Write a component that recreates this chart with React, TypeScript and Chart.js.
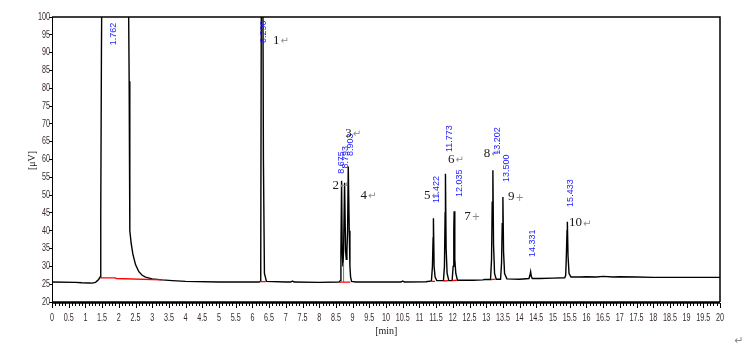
import React, { useEffect, useRef } from "react";
import { Chart, registerables } from "chart.js";

Chart.register(...registerables);

// ---- data ----
const traceTime = [
  0, 0.7, 0.9, 1.1, 1.2, 1.3, 1.36, 1.4, 1.44, 1.46, 1.48, 1.5,
  2.28, 2.3, 2.31, 2.33, 2.37, 2.42, 2.5, 2.6, 2.7, 2.8, 3.0, 3.3, 3.6, 4.0, 5.0, 6.2,
  6.23, 6.25, 6.27, 6.31, 6.33, 6.36, 6.42, 7.0, 7.15, 7.2, 7.25, 8.0, 8.6,
  8.63, 8.65, 8.67, 8.69, 8.71, 8.73, 8.76, 8.79, 8.81, 8.83, 8.85, 8.87, 8.90, 8.92, 8.94, 8.97, 9.1,
  10.0, 10.45, 10.5, 10.55, 11.2, 11.36, 11.39, 11.41, 11.42, 11.44, 11.47, 11.52,
  11.72, 11.75, 11.77, 11.78, 11.80, 11.83, 11.88,
  11.98, 12.01, 12.03, 12.04, 12.06, 12.09, 12.14, 12.6, 12.9, 12.95,
  13.13, 13.16, 13.18, 13.20, 13.22, 13.25, 13.3,
  13.43, 13.46, 13.48, 13.50, 13.52, 13.55, 13.62, 14.0,
  14.28, 14.31, 14.33, 14.35, 14.38, 14.6, 15.0, 15.35,
  15.38, 15.40, 15.42, 15.43, 15.45, 15.48, 15.54, 15.8, 16.0, 16.3, 16.5, 16.8, 17.0, 17.5, 18.0, 19.0, 20.0,
];
const traceValue = [
  25.6, 25.5, 25.4, 25.35, 25.3, 25.5, 26.0, 26.4, 27.0, 45, 90, 120,
  120, 120, 82, 40, 36.5, 33.5, 30.5, 28.5, 27.5, 27.0, 26.5, 26.2, 26.0, 25.8, 25.6, 25.6,
  25.8, 30, 120, 120, 60, 28, 25.8, 25.6, 25.6, 25.9, 25.6, 25.5, 25.6,
  26, 34, 54, 34, 30, 34.5, 53.5, 34.5, 32, 34.5, 40, 58, 40, 30, 27, 25.8, 25.6,
  25.6, 25.6, 25.9, 25.6, 25.7, 25.9, 30, 38, 43.5, 30, 27, 26,
  26, 30, 45, 56, 35, 28, 26,
  26, 30, 40, 45.5, 32, 28, 26.1, 26.1, 26.2, 26.3,
  26.3, 32, 48, 57, 36, 28, 26.4,
  26.4, 31, 42, 49.5, 34, 28, 26.5, 26.4,
  26.6, 27.5, 28.5, 27.2, 26.6, 26.6, 26.7, 26.8,
  27.5, 33, 40, 42.5, 33, 28, 27, 27.0, 27.1, 27.0, 27.2, 27.0, 27.1, 27.0, 26.9, 26.9, 26.9,
];

// integration baselines (red) and drop lines (green)
const redTime = [1.45, 1.9, 1.92, 3.3, null, 6.22, 6.40, null, 8.62, 8.93, null, 11.37, 11.47, null, 11.73, 11.86, null, 11.98, 12.12, null, 13.14, 13.28, null, 13.44, 13.58, null, 14.26, 14.40, null, 15.37, 15.50];
const redValue = [26.8, 26.8, 26.6, 26.2, null, 25.7, 25.7, null, 25.6, 25.6, null, 25.8, 25.8, null, 25.9, 26.0, null, 26.0, 26.1, null, 26.3, 26.4, null, 26.4, 26.5, null, 26.6, 26.6, null, 26.8, 26.9];
const greenTime = [8.73, 8.73, null, 8.85, 8.85];
const greenValue = [25.6, 31, null, 25.6, 33];

// annotations
const peakNames = ["1", "2", "3", "4", "5", "6", "7", "8", "9", "10"];
const peakNameTime = [6.62, 8.40, 8.78, 9.24, 11.14, 11.86, 12.34, 12.93, 13.65, 15.48];
const peakNameValue = [93.5, 52.8, 67.4, 49.8, 49.8, 60.1, 43.9, 61.8, 49.5, 42.2];
const peakMarks = ["↵", "↵", "↵", "↵", "↵", "↵", "+", "↵", "+", "↵"];

const rtLabels = ["1.762", "6.290", "8.675", "8.793", "8.903", "11.422", "11.773", "12.035", "13.202", "13.500", "14.331", "15.433"];
const rtTime = [1.83, 6.33, 8.67, 8.79, 8.93, 11.50, 11.89, 12.19, 13.35, 13.61, 14.40, 15.51];
const rtValue = [92.1, 92.7, 56.0, 57.5, 61.0, 47.8, 62.1, 49.5, 61.3, 53.7, 32.6, 46.7];

const xMin = 0, xMax = 20, xStep = 0.5, xMinor = 0.1;
const yMin = 20, yMax = 100, yStep = 5;

const toXY = (ts: (number | null)[], vs: (number | null)[]) =>
  ts.map((t, i) => (t === null ? { x: NaN, y: NaN } : { x: t as number, y: vs[i] as number }));

const narrow = (ctx: CanvasRenderingContext2D, s: string, x: number, y: number, align: "center" | "right", sx: number) => {
  ctx.save();
  ctx.translate(x, y);
  ctx.scale(sx, 1);
  ctx.textAlign = align;
  ctx.textBaseline = "middle";
  ctx.fillText(s, 0, 0);
  ctx.restore();
};

const overlay = {
  id: "overlay",
  afterDatasetsDraw(chart: any) {
    const { ctx, chartArea: a, scales } = chart;
    const xs = scales.x, ys = scales.y;
    ctx.save();
    // frame top/right
    ctx.strokeStyle = "#000";
    ctx.lineWidth = 1.5;
    ctx.beginPath();
    ctx.moveTo(a.left, a.top);
    ctx.lineTo(a.right, a.top);
    ctx.lineTo(a.right, a.bottom);
    ctx.stroke();
    // bottom axis
    ctx.lineWidth = 2.5;
    ctx.beginPath();
    ctx.moveTo(a.left, a.bottom + 0.5);
    ctx.lineTo(a.right, a.bottom + 0.5);
    ctx.stroke();
    // x ticks
    ctx.lineWidth = 1;
    const n = Math.round((xMax - xMin) / xMinor);
    for (let i = 0; i <= n; i++) {
      const v = xMin + i * xMinor;
      const px = Math.round(xs.getPixelForValue(v)) + 0.5;
      const major = i % Math.round(xStep / xMinor) === 0;
      ctx.beginPath();
      ctx.moveTo(px, a.bottom + 1);
      ctx.lineTo(px, a.bottom + (major ? 6 : 4));
      ctx.stroke();
    }
    // tick labels (condensed)
    ctx.fillStyle = "#3a2a2a";
    ctx.font = "10px 'Liberation Sans', Arial, sans-serif";
    xs.ticks.forEach((t: any) => {
      const s = String(Math.round(Number(t.value) * 10) / 10);
      narrow(ctx, s, xs.getPixelForValue(t.value), 318, "center", 0.72);
    });
    ys.ticks.forEach((t: any) => {
      narrow(ctx, String(t.value), a.left - 2, ys.getPixelForValue(t.value), "right", 0.72);
    });
    // retention time labels
    ctx.fillStyle = "#1a1aff";
    ctx.font = "9px 'Liberation Sans', Arial, sans-serif";
    ctx.textAlign = "left";
    ctx.textBaseline = "middle";
    rtLabels.forEach((s, i) => {
      const px = xs.getPixelForValue(rtTime[i]);
      const py = ys.getPixelForValue(rtValue[i]);
      ctx.save();
      ctx.translate(px, py);
      ctx.rotate(-Math.PI / 2);
      ctx.fillText(s, 0, 0);
      ctx.restore();
    });
    // peak numbers
    peakNames.forEach((s, i) => {
      const px = xs.getPixelForValue(peakNameTime[i]);
      const py = ys.getPixelForValue(peakNameValue[i]);
      ctx.font = "13px 'Liberation Serif', serif";
      ctx.fillStyle = "#1a1a1a";
      ctx.textAlign = "left";
      ctx.textBaseline = "middle";
      ctx.fillText(s, px, py);
      const w = ctx.measureText(s).width;
      ctx.font = "10px 'DejaVu Sans', sans-serif";
      ctx.fillStyle = "#8a8a8a";
      ctx.fillText(peakMarks[i], px + w + 1, py + 1);
    });
    // axis titles
    ctx.fillStyle = "#222";
    ctx.font = "10px 'Liberation Serif', serif";
    ctx.textAlign = "center";
    ctx.textBaseline = "middle";
    ctx.fillText("[min]", (a.left + a.right) / 2 + 0.3, 331);
    ctx.save();
    ctx.translate(32, (a.top + a.bottom) / 2 + 1);
    ctx.rotate(-Math.PI / 2);
    ctx.fillText("[μV]", 0, 0);
    ctx.restore();
    ctx.fillStyle = "#8a8a8a";
    ctx.font = "11px 'DejaVu Sans', sans-serif";
    ctx.fillText("↵", 739, 341);
    ctx.restore();
  },
};

export default function App() {
  const ref = useRef<HTMLCanvasElement | null>(null);
  useEffect(() => {
    if (!ref.current) return;
    const chart = new Chart(ref.current, {
      type: "line",
      data: {
        datasets: [
          {
            data: toXY(redTime, redValue),
            borderColor: "#ff0000",
            borderWidth: 1.3,
            pointRadius: 0,
            spanGaps: false,
          },
          {
            data: toXY(greenTime, greenValue),
            borderColor: "#00cc00",
            borderWidth: 1,
            pointRadius: 0,
            spanGaps: false,
          },
          {
            data: toXY(traceTime, traceValue),
            borderColor: "#000",
            borderWidth: 1.4,
            pointRadius: 0,
            tension: 0,
          },
        ],
      },
      options: {
        animation: false,
        responsive: false,
        devicePixelRatio: 1,
        parsing: false,
        layout: { padding: { top: 17, right: 28, left: 0, bottom: 0 } },
        plugins: { legend: { display: false }, tooltip: { enabled: false } },
        scales: {
          x: {
            type: "linear",
            min: xMin,
            max: xMax,
            grid: { display: false },
            border: { display: false },
            ticks: { stepSize: xStep, autoSkip: false, maxRotation: 0, display: false },
            afterFit: (s: any) => { s.height = 50; },
          },
          y: {
            type: "linear",
            min: yMin,
            max: yMax,
            grid: { display: true, drawOnChartArea: false, tickLength: 3, color: "#000" },
            border: { display: true, color: "#000", width: 1, dash: [2, 2] },
            ticks: { stepSize: yStep, display: false },
            afterFit: (s: any) => { s.width = 52; },
          },
        },
      },
      plugins: [overlay],
    });
    return () => chart.destroy();
  }, []);
  return (
    <div style={{ position: "absolute", left: 0, top: 0, width: 748, height: 352, background: "#fff" }}>
      <canvas ref={ref} width={748} height={352} style={{ width: 748, height: 352, display: "block" }} />
    </div>
  );
}
